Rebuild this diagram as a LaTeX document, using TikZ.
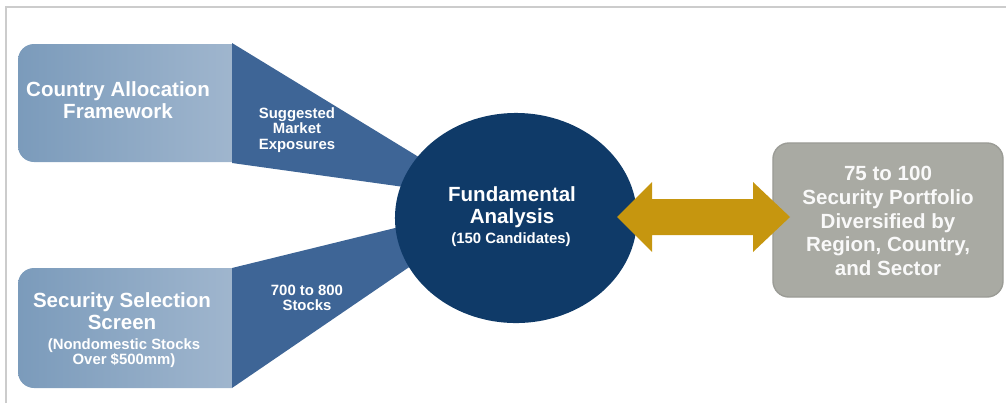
\documentclass[tikz,border=0pt]{standalone}
\usepackage{fontspec}
\setmainfont{Liberation Sans}
\usetikzlibrary{shapes.geometric}

\definecolor{navy}{HTML}{0F3A68}
\definecolor{funnelblue}{HTML}{3E6596}
\definecolor{slateL}{HTML}{7B9BBB}
\definecolor{slateR}{HTML}{A4B9D0}
\definecolor{gold}{HTML}{C6960F}
\definecolor{stone}{HTML}{A9AAA3}
\definecolor{framegray}{HTML}{CCCCCC}

\begin{document}
\begin{tikzpicture}[x=0.025cm, y=-0.025cm,
    bigtext/.style={text=white, align=center, font=\bfseries\fontsize{14.6}{15.5}\selectfont},
    smalltext/.style={text=white, align=center, font=\bfseries\fontsize{10.6}{11}\selectfont},
  ]

    \useasboundingbox (0,0) rectangle (1006,403);

    % frame
    \draw[framegray, line width=0.8pt] (6,403) -- (6,7) -- (1006,7);

    % source boxes (rounded on the left only)
    \begin{scope}
        \clip (0,0) rectangle (232,403);
        \shade[left color=slateL, right color=slateR, rounded corners=0.4cm] (18,44) rectangle (260,162);
        \shade[left color=slateL, right color=slateR, rounded corners=0.4cm] (18,268) rectangle (260,388);
    \end{scope}

    % funnels into the analysis
    \fill[funnelblue] (232,43) -- (440,170) -- (440,192) -- (232,163) -- cycle;
    \fill[funnelblue] (232,268) -- (440,217) -- (440,246) -- (232,388) -- cycle;

    % analysis
    \node[ellipse, fill=navy, minimum width=6.05cm, minimum height=5.25cm, inner sep=0pt] (fund) at (516,218) {};
    \node[bigtext] (fundtext) at (512,207) {Fundamental\\Analysis};
    \node[smalltext] (candidates) at (511,240) {(150 Candidates)};

    % box labels
    \node[bigtext] (country) at (118,100) {Country Allocation\\Framework};
    \node[bigtext] (screen) at (122,311) {Security Selection\\Screen};
    \node[smalltext] (nondomestic) at (124,353) {(Nondomestic Stocks\\Over \$500mm)};

    % funnel labels
    \node[smalltext] (exposures) at (297,130) {Suggested\\Market\\Exposures};
    \node[smalltext] (stocks) at (307,298) {700 to 800\\Stocks};

    % portfolio
    \node[rectangle, rounded corners=0.4cm, fill=stone, draw={stone!92!black}, line width=1pt,
          minimum width=5.75cm, minimum height=3.85cm] (portfolio) at (888,220) {};
    \node[bigtext, text={white!93!stone}, font=\bfseries\fontsize{14.6}{17}\selectfont] (portfoliotext) at (888,221)
        {75 to 100\\Security Portfolio\\Diversified by\\Region, Country,\\and Sector};

    % double arrow between analysis and portfolio
    \coordinate (arrowL) at (617,217);
    \coordinate (arrowR) at (790,217);
    \fill[gold] (arrowL) -- ++(35,-35) -- ++(0,17) -- ++(101,0) -- ++(0,-17) -- (arrowR)
        -- ++(-37,35) -- ++(0,-17) -- ++(-101,0) -- ++(0,17) -- cycle;

\end{tikzpicture}
\end{document}
